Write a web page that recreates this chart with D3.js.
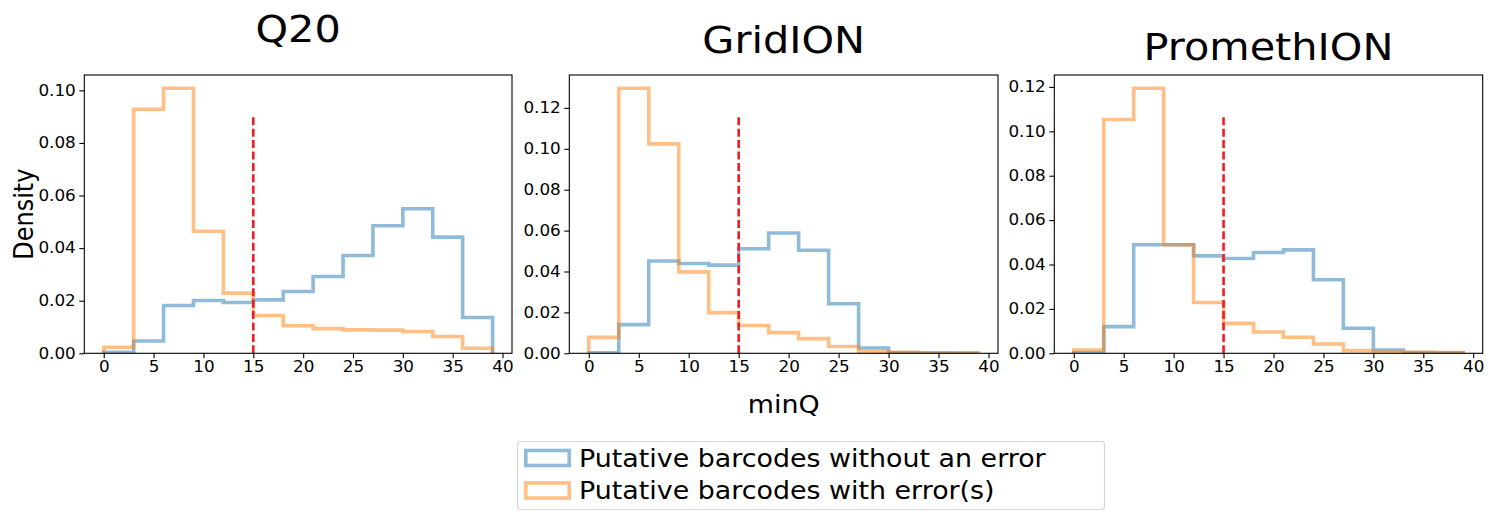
<!DOCTYPE html>
<html><head><meta charset="utf-8">
<script src="https://cdn.jsdelivr.net/npm/d3@7"></script>
<style>body{margin:0;background:#fff} text{font-family:"DejaVu Sans",sans-serif;fill:#000}</style>
</head><body><svg id="chart" width="1494" height="512"></svg>
<script>
// ---------------- data ----------------
const binEdges = [0, 3, 6, 9, 12, 15, 18, 21, 24, 27, 30, 33, 36, 39];
const xTickValues = [0, 5, 10, 15, 20, 25, 30, 35, 40];
const panelTitles = ["Q20", "GridION", "PromethION"];
const seriesNames = ["Putative barcodes without an error", "Putative barcodes with error(s)"];
const threshold = 15;

const q20NoError   = [0.0004, 0.0047, 0.0182, 0.0201, 0.0193, 0.0203, 0.0235, 0.0292, 0.0372, 0.0485, 0.0550, 0.0442, 0.0136];
const q20Error     = [0.0023, 0.0928, 0.1008, 0.0464, 0.0229, 0.0144, 0.0105, 0.0094, 0.0089, 0.0088, 0.0083, 0.0064, 0.0019];
const gridNoError  = [0.0003, 0.0140, 0.0451, 0.0439, 0.0431, 0.0511, 0.0588, 0.0504, 0.0242, 0.0026, 0.0003, 0.0001, 0.0000];
const gridError    = [0.0078, 0.1296, 0.1024, 0.0398, 0.0199, 0.0136, 0.0101, 0.0072, 0.0033, 0.0008, 0.0005, 0.0003, 0.0003];
const promNoError  = [0.0003, 0.0120, 0.0489, 0.0489, 0.0439, 0.0427, 0.0454, 0.0466, 0.0331, 0.0113, 0.0015, 0.0003, 0.0002];
const promError    = [0.0015, 0.1053, 0.1194, 0.0489, 0.0229, 0.0135, 0.0096, 0.0072, 0.0042, 0.0012, 0.0006, 0.0005, 0.0003];

const yTicksQ20  = [0, 0.02, 0.04, 0.06, 0.08, 0.10];
const yTicksGrid = [0, 0.02, 0.04, 0.06, 0.08, 0.10, 0.12];
const yTicksProm = [0, 0.02, 0.04, 0.06, 0.08, 0.10, 0.12];

// ---------------- layout / style ----------------
const panels = [
  {title: panelTitles[0], series: [q20NoError, q20Error],   yTicks: yTicksQ20},
  {title: panelTitles[1], series: [gridNoError, gridError], yTicks: yTicksGrid},
  {title: panelTitles[2], series: [promNoError, promError], yTicks: yTicksProm}
];
const boxes = [{x0: 84.3, x1: 512}, {x0: 569.3, x1: 998}, {x0: 1054.3, x1: 1482.7}];
const TOP = 75, BOTTOM = 353.3;
const titleBaselines = [42, 53, 60];
const SX = 1.12;
const colors = ["rgba(31,119,180,0.5)", "rgba(255,127,14,0.5)"];

const svg = d3.select("#chart");

function stretch(sel) {
  sel.each(function () {
    const t = d3.select(this);
    const x = +t.attr("x") || 0;
    t.attr("x", 0).attr("transform", `translate(${x},0) scale(${SX},1)`);
  });
}

panels.forEach((p, i) => {
  const b = boxes[i];
  const x = d3.scaleLinear().domain([-1.95, 40.95]).range([b.x0, b.x1]);
  const ymax = d3.max(p.series.flat()) * 1.05;
  const y = d3.scaleLinear().domain([0, ymax]).range([BOTTOM, TOP]);
  const g = svg.append("g");

  const clipId = "clip" + i;
  svg.append("clipPath").attr("id", clipId).append("rect")
    .attr("x", b.x0).attr("y", TOP).attr("width", b.x1 - b.x0).attr("height", BOTTOM - TOP);

  const plot = g.append("g").attr("clip-path", `url(#${clipId})`);
  const line = d3.line().x(d => x(d[0])).y(d => y(d[1]));
  p.series.forEach((vals, k) => {
    const pts = [[binEdges[0], 0]];
    vals.forEach((v, j) => { pts.push([binEdges[j], v]); pts.push([binEdges[j + 1], v]); });
    pts.push([binEdges[binEdges.length - 1], 0]);
    plot.append("path").attr("d", line(pts))
      .attr("fill", "none").attr("stroke", colors[k]).attr("stroke-width", 3.6)
      .attr("stroke-linejoin", "miter");
  });

  plot.append("line")
    .attr("x1", x(threshold)).attr("x2", x(threshold))
    .attr("y1", y(0)).attr("y2", BOTTOM - 0.85 * (BOTTOM - TOP))
    .attr("stroke", "#ee1c24").attr("stroke-width", 2.6).attr("stroke-dasharray", "8,3.4");

  const xAxis = g.append("g").attr("transform", `translate(0,${BOTTOM})`)
    .call(d3.axisBottom(x).tickValues(xTickValues).tickFormat(d3.format("d")).tickSize(5).tickPadding(3.5));
  const yAxis = g.append("g").attr("transform", `translate(${b.x0},0)`)
    .call(d3.axisLeft(y).tickValues(p.yTicks).tickFormat(d3.format(".2f")).tickSize(5).tickPadding(3.5));
  [xAxis, yAxis].forEach(a => {
    a.select(".domain").remove();
    a.selectAll("line").attr("stroke", "#000").attr("stroke-width", 1.1);
    a.selectAll("text").style("font-size", "15px").style("font-family", "DejaVu Sans").attr("fill", "#000");
    stretch(a.selectAll("text"));
  });

  g.append("rect").attr("x", b.x0).attr("y", TOP).attr("width", b.x1 - b.x0).attr("height", BOTTOM - TOP)
    .attr("fill", "none").attr("stroke", "#000").attr("stroke-width", 1.1);

  g.append("text").text(p.title)
    .attr("text-anchor", "middle").style("font-size", "37px")
    .attr("transform", `translate(${(b.x0 + b.x1) / 2},${titleBaselines[i]}) scale(${SX},1)`);
});

// axis labels
svg.append("text").text("Density").attr("text-anchor", "middle").style("font-size", "24px")
  .attr("transform", `translate(33,${(TOP + BOTTOM) / 2}) scale(${SX},1) rotate(-90)`);
svg.append("text").text("minQ").attr("text-anchor", "middle").style("font-size", "24px")
  .attr("transform", `translate(${(boxes[1].x0 + boxes[1].x1) / 2},413) scale(${SX},1)`);

// legend
const lg = svg.append("g");
lg.append("rect").attr("x", 517.5).attr("y", 441.5).attr("width", 587).attr("height", 68).attr("rx", 3)
  .attr("fill", "#fff").attr("stroke", "#d6d6d6").attr("stroke-width", 1.2);
const rowCenters = [458, 490.5];
seriesNames.forEach((name, k) => {
  lg.append("rect").attr("x", 525.8).attr("y", rowCenters[k] - 7.5).attr("width", 43.4).attr("height", 15)
    .attr("fill", "#fff").attr("stroke", colors[k]).attr("stroke-width", 3.6);
  lg.append("text").text(name).style("font-size", "24px")
    .attr("transform", `translate(579,${rowCenters[k] + 8.7}) scale(${SX},1)`);
});
</script></body></html>
